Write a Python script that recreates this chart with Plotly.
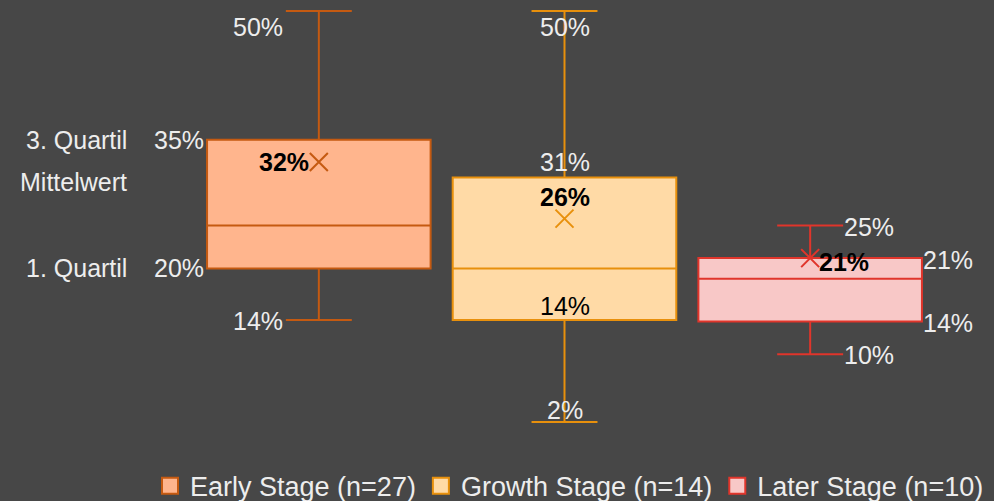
import plotly.graph_objects as go

# ---- data ----
categories = ["Early Stage", "Growth Stage", "Later Stage"]
legend_names = ["Early Stage (n=27)", "Growth Stage (n=14)", "Later Stage (n=10)"]
lower_whisker = [14, 2.1, 10]
q1_values = [20, 14, 13.8]
median_values = [25, 20, 18.8]
q3_values = [35, 30.6, 21.2]
upper_whisker = [50, 50, 25]
mean_values = [32.4, 25.8, 21.2]

line_colors = ["#C55A11", "#E8900C", "#E0352B"]
fill_colors = ["#FFB58D", "#FFDAA6", "#F8C8C7"]

BG = "#474747"
TXT = "#EDEDED"
FONT = "Liberation Sans, Arial, sans-serif"
FS = 25


def pct(v):
    return f"{int(v + 0.5)}%"


fig = go.Figure()

for i, cat in enumerate(categories):
    fig.add_trace(go.Box(
        x=[cat],
        q1=[q1_values[i]], median=[median_values[i]], q3=[q3_values[i]],
        lowerfence=[lower_whisker[i]], upperfence=[upper_whisker[i]],
        width=0.91, whiskerwidth=0.295,
        fillcolor=fill_colors[i],
        line=dict(color=line_colors[i], width=2),
        showlegend=False, hoverinfo="skip", boxpoints=False,
    ))
    fig.add_trace(go.Scatter(
        x=[cat], y=[mean_values[i]], mode="markers",
        marker=dict(symbol="x-thin", size=18,
                    line=dict(color=line_colors[i], width=2)),
        showlegend=False, hoverinfo="skip",
    ))
    # legend proxy
    fig.add_trace(go.Scatter(
        x=[None], y=[None], mode="markers", name=legend_names[i],
        marker=dict(symbol="square", size=16, color=fill_colors[i],
                    line=dict(color=line_colors[i], width=2)),
    ))

ann = []


def add(cat, y, text, xanchor="center", xshift=0, yshift=0, bold=False, color=TXT):
    ann.append(dict(
        x=cat, y=y, xref="x", yref="y", text=f"<b>{text}</b>" if bold else text,
        showarrow=False, xanchor=xanchor, yanchor="middle",
        xshift=xshift, yshift=yshift,
        font=dict(family=FONT, size=FS, color=color),
    ))


# Early stage
c = categories[0]
add(c, upper_whisker[0], pct(upper_whisker[0]), "right", -34, -16)
add(c, q3_values[0], pct(q3_values[0]), "right", -113, 0)
add(c, q1_values[0], pct(q1_values[0]), "right", -113, 0)
add(c, lower_whisker[0], pct(lower_whisker[0]), "right", -34, -1)
add(c, mean_values[0], pct(mean_values[0]), "right", -8, 0, bold=True, color="#000000")

# Growth stage
c = categories[1]
add(c, upper_whisker[1], pct(upper_whisker[1]), "center", 0, -16)
add(c, q3_values[1], pct(q3_values[1]), "center", 0, 15)
add(c, mean_values[1], pct(mean_values[1]), "center", 0, 22, bold=True, color="#000000")
add(c, q1_values[1], pct(q1_values[1]), "center", 0, 14, color="#000000")
add(c, lower_whisker[1], pct(lower_whisker[1]), "center", 0, 12)

# Later stage
c = categories[2]
add(c, upper_whisker[2], pct(upper_whisker[2]), "left", 32, -2)
add(c, mean_values[2], pct(mean_values[2]), "left", 7, -4, bold=True, color="#000000")
add(c, q3_values[2], pct(q3_values[2]), "left", 111, -2)
add(c, q1_values[2], pct(q1_values[2]), "left", 111, -1)
add(c, lower_whisker[2], pct(lower_whisker[2]), "left", 32, -1)

# left-side row labels
row_labels = [("3. Quartil", q3_values[0]), ("Mittelwert", 30.1), ("1. Quartil", q1_values[0])]
for txt, yv in row_labels:
    ann.append(dict(
        x=0, xref="paper", y=yv, yref="y", text=txt, showarrow=False,
        xanchor="right", yanchor="middle", xshift=-67,
        font=dict(family=FONT, size=FS, color=TXT),
    ))

fig.update_layout(
    width=994, height=501,
    paper_bgcolor=BG, plot_bgcolor=BG,
    margin=dict(l=196, r=61, t=0, b=61, autoexpand=False),
    font=dict(family=FONT, size=FS, color=TXT),
    xaxis=dict(type="category", categoryorder="array", categoryarray=categories,
               range=[-0.5, 2.5], showticklabels=False, showgrid=False,
               zeroline=False, showline=False, fixedrange=True),
    yaxis=dict(range=[0, 51.28], showticklabels=False, showgrid=False,
               zeroline=False, showline=False, fixedrange=True),
    legend=dict(orientation="h", x=-0.0624, xanchor="left", y=-0.105, yanchor="middle",
                font=dict(family=FONT, size=27, color=TXT),
                bgcolor="rgba(0,0,0,0)", itemclick=False, itemdoubleclick=False),
    annotations=ann,
    showlegend=True,
    boxmode="group",
)

fig.write_html("out.html")
